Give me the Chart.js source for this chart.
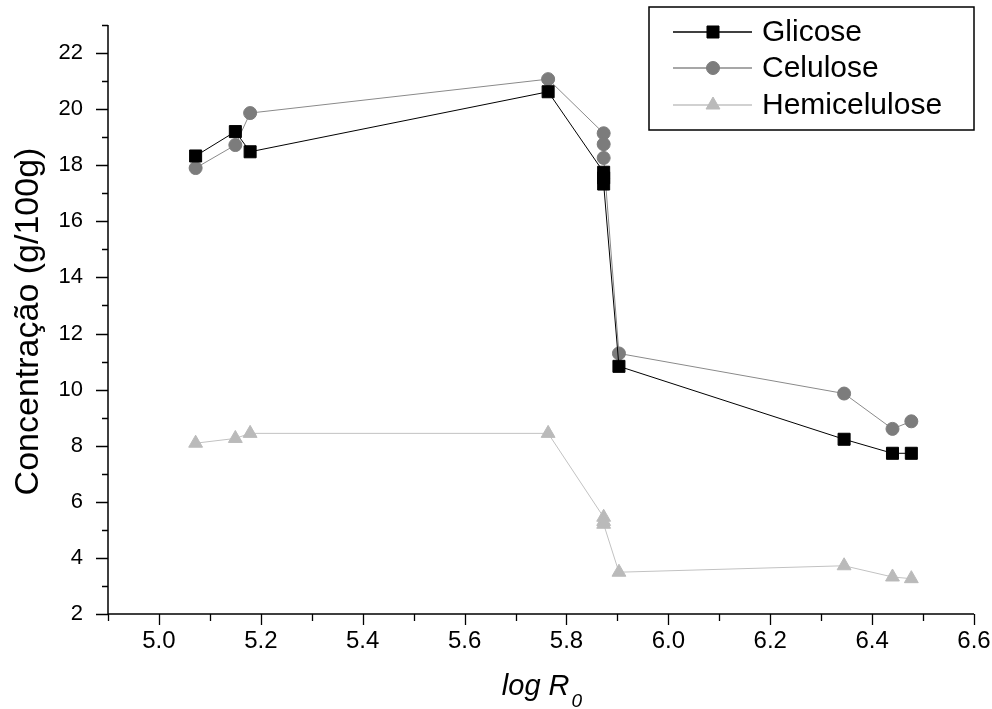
<!DOCTYPE html>
<html>
<head>
<meta charset="utf-8">
<script src="https://cdn.jsdelivr.net/npm/chart.js@4.4.0/dist/chart.umd.min.js"></script>
<style>
  html, body { margin: 0; padding: 0; background: #fff; }
  #wrap { width: 992px; height: 709px; }
</style>
</head>
<body>
<div id="wrap"><canvas id="chart" width="992" height="709"></canvas></div>
<script>
// ================= DATA =================
const logR0 = [5.072, 5.150, 5.179, 5.764, 5.873, 5.873, 5.873, 5.903, 6.345, 6.440, 6.477];
const glicose = [18.33, 19.20, 18.48, 20.62, 17.75, 17.55, 17.33, 10.83, 8.23, 7.73, 7.73];
const celulose = [17.90, 18.72, 19.86, 21.07, 19.14, 18.75, 18.26, 11.29, 9.86, 8.60, 8.87];
const hemicelulose = [8.09, 8.26, 8.44, 8.44, 5.45, 5.30, 5.20, 3.49, 3.72, 3.32, 3.26];
const seriesNames = ["Glicose", "Celulose", "Hemicelulose"];
const xTitle = "log R";
const xTitleSub = "0";
const yTitle = "Concentração (g/100g)";

const FONT = "'Liberation Sans', Arial, Helvetica, sans-serif";

function toPoints(ys) {
  return logR0.map((x, i) => ({ x, y: ys[i] }));
}

function drawMarker(ctx, ds, px, py) {
  ctx.save();
  ctx.fillStyle = ds.pointBackgroundColor;
  ctx.strokeStyle = ds.pointBorderColor;
  ctx.lineWidth = ds.pointBorderWidth;
  Chart.helpers.drawPoint(ctx, {
    pointStyle: ds.pointStyle,
    radius: ds.pointRadius,
    borderWidth: ds.pointBorderWidth,
    rotation: 0
  }, px, py);
  ctx.restore();
}

// ================= DECORATION (axes, ticks, titles, legend) =================
const decor = {
  id: "decor",
  afterDraw(chart) {
    const { ctx, chartArea: a, scales: { x, y } } = chart;
    ctx.save();

    // axis lines
    ctx.strokeStyle = "#000";
    ctx.lineWidth = 1.5;
    ctx.beginPath();
    ctx.moveTo(a.left, a.top);
    ctx.lineTo(a.left, a.bottom);
    ctx.lineTo(a.right, a.bottom);
    ctx.stroke();

    // tick marks (major have labels, minor are empty)
    ctx.lineWidth = 1.3;
    ctx.beginPath();
    x.ticks.forEach((t, i) => {
      const px = Math.round(x.getPixelForTick(i)) + 0.5;
      const len = t.label ? 11 : 7;
      ctx.moveTo(px, a.bottom);
      ctx.lineTo(px, a.bottom + len);
    });
    y.ticks.forEach((t, i) => {
      const py = Math.round(y.getPixelForTick(i)) + 0.5;
      const len = t.label ? 12 : 6;
      ctx.moveTo(a.left, py);
      ctx.lineTo(a.left - len, py);
    });
    ctx.stroke();

    // y title
    ctx.fillStyle = "#000";
    ctx.font = `34px ${FONT}`;
    ctx.textAlign = "center";
    ctx.textBaseline = "middle";
    ctx.save();
    ctx.translate(29, (a.top + a.bottom) / 2 + 2);
    ctx.rotate(-Math.PI / 2);
    ctx.fillText(yTitle, 0, 0);
    ctx.restore();

    // x title with subscript
    ctx.textAlign = "left";
    ctx.textBaseline = "alphabetic";
    ctx.font = `italic 29px ${FONT}`;
    const w1 = ctx.measureText(xTitle).width;
    ctx.font = `italic 19px ${FONT}`;
    const w2 = ctx.measureText(xTitleSub).width;
    const sx = (a.left + a.right) / 2 - (w1 + w2) / 2;
    ctx.font = `italic 29px ${FONT}`;
    ctx.fillText(xTitle, sx, 695);
    ctx.font = `italic 19px ${FONT}`;
    ctx.fillText(xTitleSub, sx + w1 + 2, 707);

    // legend
    const box = { l: 649, t: 7, r: 974, b: 130 };
    ctx.fillStyle = "#fff";
    ctx.fillRect(box.l, box.t, box.r - box.l, box.b - box.t);
    ctx.strokeStyle = "#000";
    ctx.lineWidth = 1.5;
    ctx.strokeRect(box.l, box.t, box.r - box.l, box.b - box.t);
    const rows = [32, 68, 105];
    chart.data.datasets.forEach((ds, i) => {
      const ly = rows[i];
      ctx.strokeStyle = ds.borderColor;
      ctx.lineWidth = 1.5;
      ctx.beginPath();
      ctx.moveTo(673, ly);
      ctx.lineTo(752, ly);
      ctx.stroke();
      drawMarker(ctx, ds, 713, ly);
      ctx.fillStyle = "#000";
      ctx.font = `30px ${FONT}`;
      ctx.textBaseline = "middle";
      ctx.textAlign = "left";
      ctx.fillText(ds.label, 762, ly + 1);
    });

    ctx.restore();
  }
};

// ================= CHART =================
const ctx = document.getElementById("chart").getContext("2d");
new Chart(ctx, {
  type: "scatter",
  data: {
    datasets: [
      {
        label: seriesNames[0],
        data: toPoints(glicose),
        showLine: true,
        borderColor: "#000",
        borderWidth: 1,
        pointStyle: "rect",
        pointRadius: 8.5,
        pointBorderWidth: 1,
        pointBackgroundColor: "#000",
        pointBorderColor: "#000"
      },
      {
        label: seriesNames[1],
        data: toPoints(celulose),
        showLine: true,
        borderColor: "#8a8a8a",
        borderWidth: 1,
        pointStyle: "circle",
        pointRadius: 6.5,
        pointBorderWidth: 1,
        pointBackgroundColor: "#7c7c7c",
        pointBorderColor: "#7c7c7c"
      },
      {
        label: seriesNames[2],
        data: toPoints(hemicelulose),
        showLine: true,
        borderColor: "#c2c2c2",
        borderWidth: 1,
        pointStyle: "triangle",
        pointRadius: 8,
        pointBorderWidth: 1,
        pointBackgroundColor: "#bababa",
        pointBorderColor: "#bababa"
      }
    ]
  },
  options: {
    responsive: false,
    animation: false,
    layout: { padding: { top: 25, right: 18, bottom: 0, left: 0 } },
    plugins: {
      legend: { display: false },
      tooltip: { enabled: false }
    },
    scales: {
      x: {
        type: "linear",
        min: 4.9,
        max: 6.6,
        grid: { display: false, drawTicks: false },
        border: { display: false },
        afterFit: s => {
          s.height = 95;
          s.paddingLeft = 0;
          s.paddingRight = 0;
        },
        ticks: {
          stepSize: 0.1,
          autoSkip: false,
          maxRotation: 0,
          padding: 13,
          color: "#000",
          font: { family: FONT, size: 24 },
          callback: v => {
            const k = Math.round(v * 10);
            return k % 2 === 0 ? (k / 10).toFixed(1) : "";
          }
        }
      },
      y: {
        type: "linear",
        min: 2,
        max: 23,
        grid: { display: false, drawTicks: false },
        border: { display: false },
        afterFit: s => {
          s.width = 108;
          s.paddingTop = 0;
          s.paddingBottom = 0;
        },
        ticks: {
          stepSize: 1,
          autoSkip: false,
          padding: 25,
          color: "#000",
          font: { family: FONT, size: 22 },
          callback: v => (Math.round(v) % 2 === 0 ? String(Math.round(v)) : "")
        }
      }
    }
  },
  plugins: [decor]
});
</script>
</body>
</html>
